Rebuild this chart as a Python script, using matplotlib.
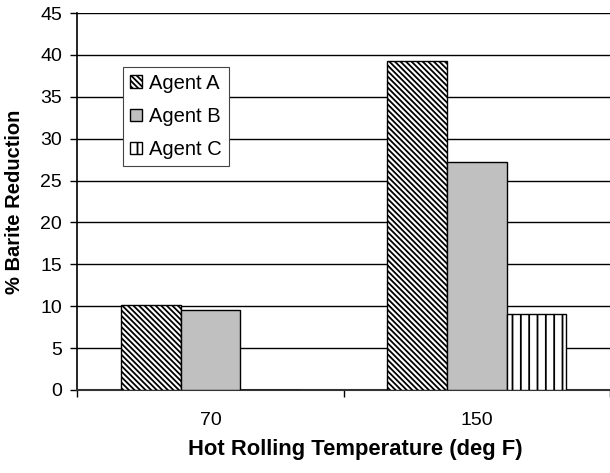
import numpy as np
import matplotlib.pyplot as plt
from matplotlib.ticker import FixedLocator, NullFormatter

plt.rcParams['font.family'] = ['Liberation Sans', 'DejaVu Sans']
plt.rcParams['hatch.linewidth'] = 1.3

temps = ['70', '150']
agents = ['Agent A', 'Agent B', 'Agent C']
agent_a = [10.2, 39.3]
agent_b = [9.6, 27.2]
agent_c = [0.0, 9.1]

fig = plt.figure(figsize=(6.1, 4.73), dpi=100)
ax = fig.add_axes([0.127, 0.1755, 0.873, 0.797])

x = np.arange(len(temps))
w = 0.224
styles = [
    dict(color='white', hatch='\\\\\\\\\\\\'),
    dict(color='#c0c0c0', hatch=None),
    dict(color='white', hatch='||'),
]
for i, (vals, st) in enumerate(zip([agent_a, agent_b, agent_c], styles)):
    ax.bar(x + (i - 1) * w, vals, w, facecolor=st['color'], edgecolor='black',
           linewidth=1.0, hatch=st['hatch'], label=agents[i], zorder=3)

ax.set_ylim(0, 45)
ax.set_xlim(-0.5, 1.5)
ax.set_yticks(np.arange(0, 46, 5))
ax.yaxis.grid(True, color='black', linewidth=1.0, zorder=0)
ax.set_axisbelow(True)

# category labels in the middle, tick marks between the groups
ax.set_xticks(x)
ax.set_xticklabels(temps)
ax.xaxis.set_minor_locator(FixedLocator([-0.5, 0.5, 1.5]))
ax.xaxis.set_minor_formatter(NullFormatter())
ax.tick_params(axis='x', which='major', length=0, pad=16, labelsize=14)
ax.tick_params(axis='x', which='minor', length=5, width=1, direction='out')
ax.tick_params(axis='y', length=5, width=1, direction='out', pad=6, labelsize=14)

for s in ['top', 'right']:
    ax.spines[s].set_visible(False)
ax.spines['left'].set_linewidth(1.2)
ax.spines['bottom'].set_linewidth(1.5)
ax.spines['bottom'].set_color('#333333')

ax.set_xlabel('Hot Rolling Temperature (deg F)', fontsize=15.8, fontweight='bold')
ax.set_ylabel('% Barite Reduction', fontsize=14.5, fontweight='bold')
ax.xaxis.set_label_coords(0.521, -0.131)
ax.yaxis.set_label_coords(-0.10, 0.5)

leg = ax.legend(loc='upper left', bbox_to_anchor=(0.0854, 0.857), fontsize=14.5,
                fancybox=False, framealpha=1, edgecolor='#444444',
                handlelength=0.6, handleheight=0.6, handletextpad=0.33,
                labelspacing=0.7, borderpad=0.35, borderaxespad=0)
leg.get_frame().set_linewidth(0.8)
leg.set_zorder(5)

fig.savefig('out.png', dpi=100)
